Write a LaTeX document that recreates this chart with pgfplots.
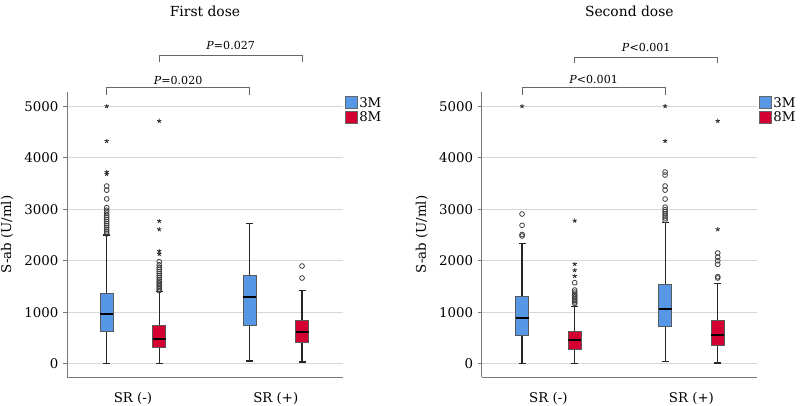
\documentclass[border=0pt]{standalone}
\usepackage{fontspec}
\setmainfont{DejaVu Serif}
\usepackage{pgfplots}
\pgfplotsset{compat=1.18}

\definecolor{blueS}{RGB}{86,152,230}
\definecolor{redS}{RGB}{212,0,50}
\definecolor{gridS}{RGB}{215,215,215}
\definecolor{lineS}{RGB}{120,120,120}

% one box: position, lower whisker, Q1, median, Q3, upper whisker, colour
\newcommand{\bx}[7]{%
  \pgfmathsetmacro{\xl}{#1-0.0455}\pgfmathsetmacro{\xr}{#1+0.0455}%
  \pgfmathsetmacro{\cl}{#1-0.0245}\pgfmathsetmacro{\cr}{#1+0.0245}%
  \addplot[black!85, line width=0.9pt] coordinates {(#1,#5) (#1,#6)};
  \addplot[black!85, line width=0.9pt] coordinates {(#1,#3) (#1,#2)};
  \addplot[black!85, line width=0.9pt] coordinates {(\cl,#6) (\cr,#6)};
  \addplot[black!85, line width=0.9pt] coordinates {(\cl,#2) (\cr,#2)};
  \addplot[draw=black!65, fill=#7, line width=0.6pt] coordinates {(\xl,#3) (\xr,#3) (\xr,#5) (\xl,#5)} -- cycle;
  \addplot[black, line width=1.5pt] coordinates {(\xl,#4) (\xr,#4)};}
% outliers and extreme values
\newcommand{\circs}[1]{\addplot[only marks, mark=o, mark size=1.8pt,
    black!75, line width=0.6pt] coordinates {#1};}
\newcommand{\stars}[1]{\addplot[only marks, mark=star, mark size=1.7pt,
    black!85, line width=0.6pt] coordinates {#1};}
% legend swatches
\newcommand{\leg}{%
  \node[draw=black!60, fill=blueS, minimum size=9pt, inner sep=0pt, anchor=north west, line width=0.5pt]
    (a) at ([xshift=1.5pt,yshift=-3pt]axis description cs:1,1) {};
  \node[anchor=west, inner sep=1pt, font=\fontsize{10}{11}\selectfont] at (a.east) {3M};
  \node[draw=black!60, fill=redS, minimum size=9pt, inner sep=0pt, anchor=north west, line width=0.5pt]
    (b) at ([yshift=-1.5pt]a.south west) {};
  \node[anchor=west, inner sep=1pt, font=\fontsize{10}{11}\selectfont] at (b.east) {8M};}

\tikzset{pnote/.style={font=\fontsize{8.3}{10}\selectfont}}

\pgfplotsset{
  sab/.style={
    scale only axis, height=213.75pt,
    ymin=-258, ymax=5276,
    ytick={0,1000,2000,3000,4000,5000},
    xtick={1,2}, xticklabels={SR (-),SR (+)},
    axis x line*=bottom, axis y line*=left,
    axis line style={lineS, line width=0.7pt, -},
    ymajorgrids, grid style={gridS, line width=0.7pt},
    x tick style={draw=none}, y tick style={lineS, line width=0.6pt},
    tick align=outside, major tick length=3pt,
    /pgf/number format/assume math mode=true,
    /pgf/number format/1000 sep={},
    tick label style={font=\fontsize{10}{11}\selectfont},
    xticklabel style={yshift=-5pt},
    ylabel={S-ab (U/ml)},
    label style={font=\fontsize{10}{11}\selectfont},
    ylabel shift=1.5pt,
    clip=false,
  },
}

\begin{document}
\begin{tikzpicture}
\useasboundingbox (0,0) rectangle (600pt,-303.75pt);

% ---------------- First dose ----------------
\begin{axis}[sab, at={(50.25pt,-282.75pt)}, anchor=south west, width=207pt,
    xmin=0.538, xmax=2.471]
\bx{0.816}{0}{629}{971}{1367}{2499}{blueS}
\bx{1.184}{0}{318}{479}{751}{1398}{redS}
\bx{1.816}{52}{745}{1289}{1722}{2726}{blueS}
\bx{2.184}{33}{408}{609}{842}{1418}{redS}
\circs{(0.816,2520) (0.816,2560) (0.816,2600) (0.816,2640) (0.816,2680) (0.816,2720)
  (0.816,2760) (0.816,2800) (0.816,2840) (0.816,2880) (0.816,2930) (0.816,2980)
  (0.816,3030) (0.816,3200) (0.816,3370) (0.816,3450)}
\stars{(0.816,3683) (0.816,3722) (0.816,4324) (0.816,5000)}
\circs{(1.184,1420) (1.184,1450) (1.184,1480) (1.184,1510) (1.184,1540) (1.184,1570)
  (1.184,1600) (1.184,1630) (1.184,1670) (1.184,1710) (1.184,1750) (1.184,1790)
  (1.184,1830) (1.184,1870) (1.184,1920) (1.184,1980)}
\stars{(1.184,2130) (1.184,2188) (1.184,2610) (1.184,2771) (1.184,4713)}
\circs{(2.184,1664) (2.184,1897)}
\leg
% comparison brackets
\draw[black!60, line width=0.6pt] (axis cs:0.816,5217) -- (axis cs:0.816,5373) -- (axis cs:1.816,5373) -- (axis cs:1.816,5217);
\node[pnote] at (axis cs:1.316,5508) {\textit{P}=0.020};
\draw[black!60, line width=0.6pt] (axis cs:1.184,5858) -- (axis cs:1.184,5994) -- (axis cs:2.184,5994) -- (axis cs:2.184,5858);
\node[pnote] at (axis cs:1.684,6175) {\textit{P}=0.027};
\node[font=\fontsize{10.4}{12}\selectfont] at (axis description cs:0.5,1.284) {First dose};
\end{axis}

% ---------------- Second dose ----------------
\begin{axis}[sab, at={(361.3pt,-282.75pt)}, anchor=south west, width=206.5pt,
    xmin=0.534, xmax=2.459]
\bx{0.816}{0}{557}{893}{1315}{2338}{blueS}
\bx{1.184}{0}{285}{454}{635}{1107}{redS}
\bx{1.816}{39}{718}{1062}{1547}{2745}{blueS}
\bx{2.184}{14}{357}{563}{849}{1561}{redS}
\circs{(0.816,2480) (0.816,2510) (0.816,2687) (0.816,2907)}
\stars{(0.816,5000)}
\circs{(1.184,1170) (1.184,1200) (1.184,1230) (1.184,1260) (1.184,1290) (1.184,1320)
  (1.184,1350) (1.184,1390) (1.184,1430) (1.184,1573)}
\stars{(1.184,1703) (1.184,1815) (1.184,1936) (1.184,2777)}
\circs{(1.816,2790) (1.816,2830) (1.816,2870) (1.816,2910) (1.816,2950) (1.816,2990)
  (1.816,3040) (1.816,3198) (1.816,3371) (1.816,3450) (1.816,3664) (1.816,3722)}
\stars{(1.816,4324) (1.816,5000)}
\circs{(2.184,1665) (2.184,1690) (2.184,1930) (2.184,2000) (2.184,2070) (2.184,2150)}
\stars{(2.184,2610) (2.184,4713)}
\leg
\draw[black!60, line width=0.6pt] (axis cs:0.816,5217) -- (axis cs:0.816,5373) -- (axis cs:1.816,5373) -- (axis cs:1.816,5217);
\node[pnote] at (axis cs:1.316,5522) {\textit{P}\textless0.001};
\draw[black!60, line width=0.6pt] (axis cs:1.184,5833) -- (axis cs:1.184,5955) -- (axis cs:2.184,5955) -- (axis cs:2.184,5833);
\node[pnote] at (axis cs:1.684,6137) {\textit{P}\textless0.001};
\node[font=\fontsize{10.4}{12}\selectfont] at (axis description cs:0.536,1.284) {Second dose};
\end{axis}
\end{tikzpicture}
\end{document}
